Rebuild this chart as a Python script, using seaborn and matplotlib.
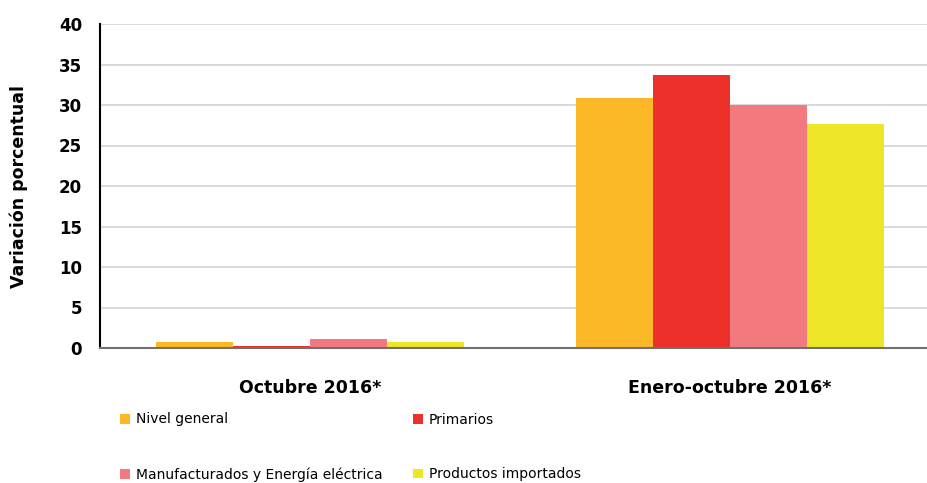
import pandas as pd
import matplotlib.pyplot as plt
import seaborn as sns

sns.set_style("white")
plt.rcParams["font.family"] = ["DejaVu Sans"]

# Data
periods = ["Octubre 2016*", "Enero-octubre 2016*"]
series = ["Nivel general", "Primarios", "Manufacturados y Energía eléctrica", "Productos importados"]
nivel_general = [0.75, 30.9]
primarios = [0.3, 33.7]
manufacturados = [1.15, 30.0]
importados = [0.7, 27.7]
colors = ["#FDB827", "#EE302A", "#F27A7F", "#EDE626"]

rows = []
for name, vals in zip(series, [nivel_general, primarios, manufacturados, importados]):
    for p, v in zip(periods, vals):
        rows.append({"Periodo": p, "Serie": name, "Valor": v})
df = pd.DataFrame(rows)

fig = plt.figure(figsize=(9.28, 4.83), dpi=100)
ax = fig.add_axes([100 / 928, 135 / 483, 840 / 928, 324 / 483])

sns.barplot(data=df, x="Periodo", y="Valor", hue="Serie", order=periods,
            hue_order=series, palette=colors, width=0.733, saturation=1,
            edgecolor="none", linewidth=0, ax=ax, legend=True)

ax.set_xlim(-0.5, 1.5)
ax.set_ylim(0, 40)
ax.set_yticks(range(0, 41, 5))
ax.yaxis.grid(True, color="#D3D3D3", linewidth=1.2)
ax.set_axisbelow(True)

ax.set_xlabel("")
ax.set_ylabel("Variación porcentual", fontsize=12.5, fontweight="bold",
              color="black", labelpad=22)
ax.tick_params(axis="y", labelsize=12, labelcolor="black", length=7, width=1,
               color="#404040", pad=6)
for lbl in ax.get_yticklabels():
    lbl.set_fontweight("bold")

# category labels, boundaries as minor ticks
ax.set_xticks([0, 1])
ax.set_xticklabels(periods, fontsize=12.5, fontweight="bold", color="black")
ax.tick_params(axis="x", which="major", length=0, pad=22)
ax.set_xticks([-0.5, 0.5, 1.5], minor=True)
ax.tick_params(axis="x", which="minor", length=7, width=1.2, color="#808080")

for side in ["top", "right"]:
    ax.spines[side].set_visible(False)
ax.spines["left"].set_color("black")
ax.spines["left"].set_linewidth(1.5)
ax.spines["bottom"].set_color("#707070")
ax.spines["bottom"].set_linewidth(1.5)

# legend, row-wise order
handles, labels = ax.get_legend_handles_labels()
ax.get_legend().remove()
order = [0, 2, 1, 3]
leg = fig.legend([handles[i] for i in order], [labels[i] for i in order],
                 ncol=2, loc="upper left", bbox_to_anchor=(108 / 928, 1 - 400 / 483),
                 frameon=False, fontsize=10, handlelength=0.7, handleheight=0.7,
                 handletextpad=0.45, labelspacing=2.95, columnspacing=2.15)
for t in leg.get_texts():
    t.set_color("black")

plt.savefig("out.png", dpi=100)
plt.close()
